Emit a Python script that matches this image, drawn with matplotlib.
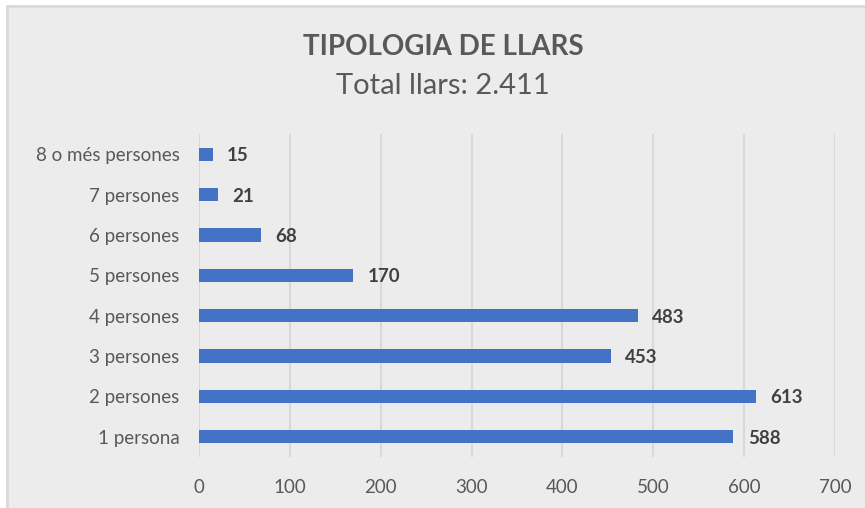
import matplotlib
matplotlib.use("Agg")
import matplotlib.pyplot as plt
from matplotlib.patches import Rectangle

# Chart data
categories = ["1 persona", "2 persones", "3 persones", "4 persones",
              "5 persones", "6 persones", "7 persones", "8 o més persones"]
households = [588, 613, 453, 483, 170, 68, 21, 15]
x_ticks = [0, 100, 200, 300, 400, 500, 600, 700]

plt.rcParams["font.family"] = ["Lato", "DejaVu Sans"]

fig = plt.figure(figsize=(8.65, 5.08), dpi=100)
fig.patch.set_facecolor("white")

# Chart background panel with border
fig.patches.append(Rectangle((7 / 865, -0.01), 1.02 - 7 / 865, 1.01 - 6 / 508,
                             transform=fig.transFigure, facecolor="#ececec",
                             edgecolor="#d9d9d9", linewidth=2, zorder=-10))

ax = fig.add_axes([199 / 865, 51 / 508, 636 / 865, 323 / 508])
ax.set_facecolor("none")

ypos = list(range(len(categories)))
ax.barh(ypos, households, height=0.33, color="#4472C4", zorder=3)

for y, v in zip(ypos, households):
    ax.text(v + 16, y, str(v), va="center_baseline", ha="left", fontsize=13.5,
            fontweight="bold", color="#404040")

ax.set_xlim(0, 700)
ax.set_ylim(-0.5, len(categories) - 0.5)
ax.set_xticks(x_ticks)
ax.set_yticks(ypos)
ax.set_yticklabels(categories, fontsize=13.5)
ax.grid(axis="x", color="#d9d9d9", linewidth=1.5, zorder=0)
for s in ax.spines.values():
    s.set_visible(False)
ax.tick_params(axis="both", length=0, colors="#595959")
ax.tick_params(axis="x", labelsize=13.5, pad=16)
ax.tick_params(axis="y", pad=14)

fig.text(443 / 865, 1 - 46.5 / 508, "TIPOLOGIA DE LLARS", ha="center", va="center",
         fontsize=20, fontweight="bold", color="#595959")
fig.text(443 / 865, 1 - 86 / 508, "Total llars: 2.411", ha="center", va="center",
         fontsize=21, color="#595959")

fig.savefig("out.png", dpi=100, facecolor=fig.get_facecolor())
